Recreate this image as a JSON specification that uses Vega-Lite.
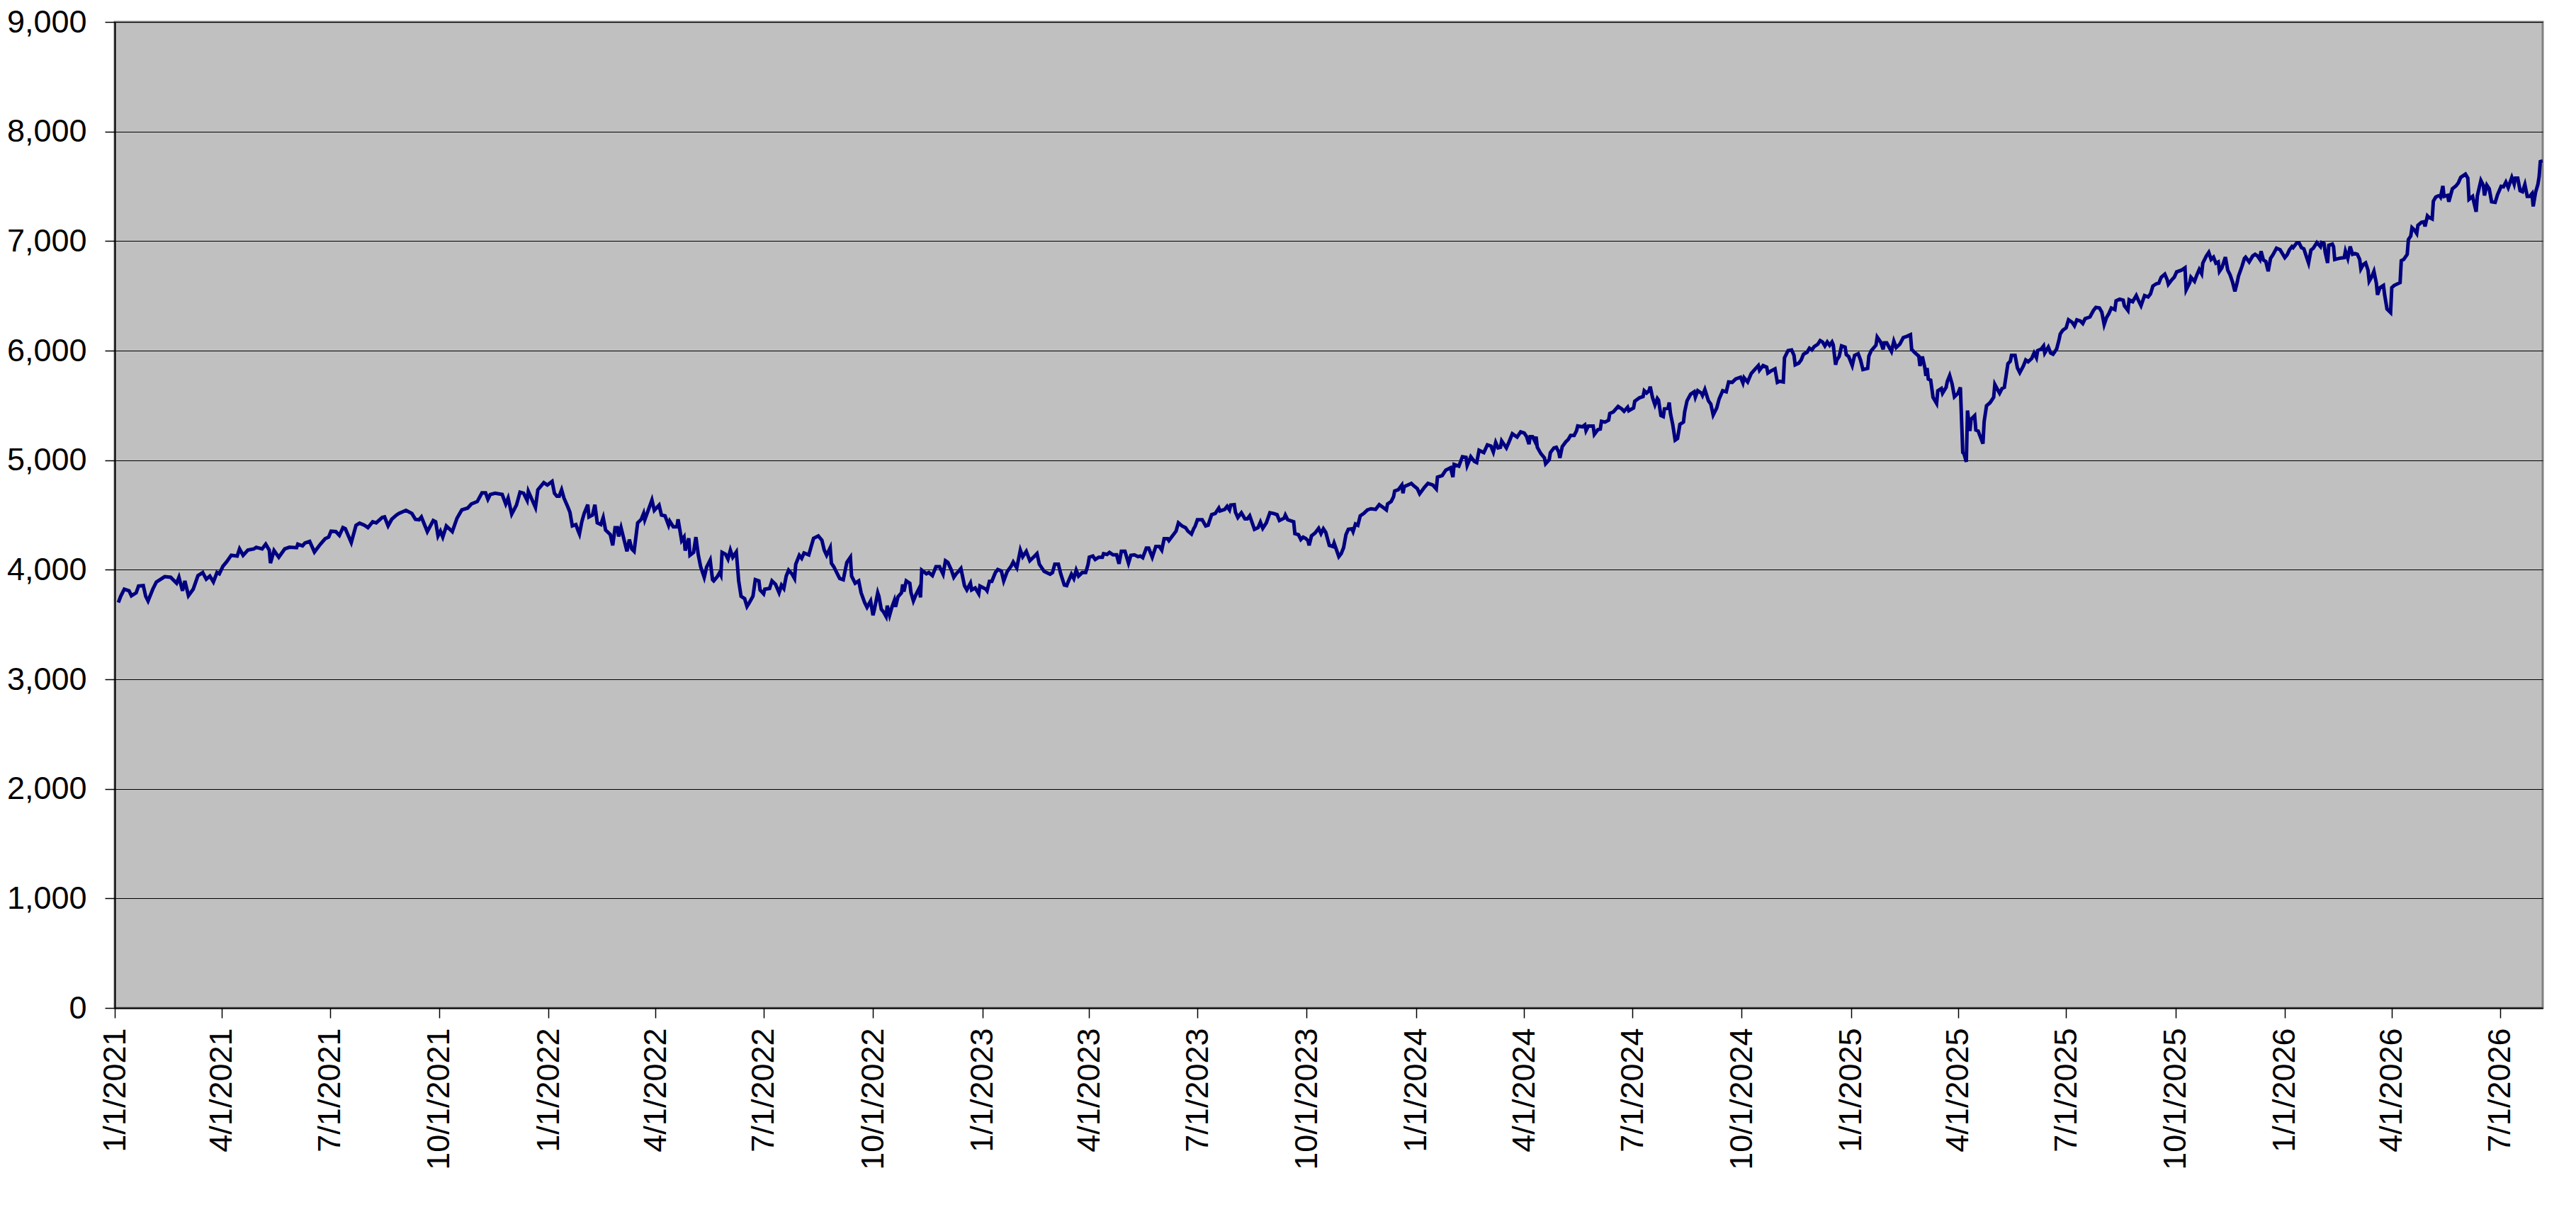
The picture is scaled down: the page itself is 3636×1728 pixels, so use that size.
{
  "$schema": "https://vega.github.io/schema/vega-lite/v6.json",
  "width": 3427,
  "height": 1392,
  "autosize": {"type": "none"},
  "padding": {"left": 162, "top": 31, "right": 47, "bottom": 305},
  "background": "white",
  "config": {
    "font": "Liberation Sans",
    "view": {"fill": "#C0C0C0", "stroke": "#808080", "strokeWidth": 3}
  },
  "data": {
    "values": [
      {"d": "2021-01-04", "v": 3700}, {"d": "2021-01-06", "v": 3758}, {"d": "2021-01-09", "v": 3823}, {"d": "2021-01-13", "v": 3808},
      {"d": "2021-01-15", "v": 3762}, {"d": "2021-01-19", "v": 3790}, {"d": "2021-01-21", "v": 3851}, {"d": "2021-01-25", "v": 3855},
      {"d": "2021-01-27", "v": 3758}, {"d": "2021-01-29", "v": 3715}, {"d": "2021-02-02", "v": 3823}, {"d": "2021-02-05", "v": 3888},
      {"d": "2021-02-09", "v": 3916}, {"d": "2021-02-12", "v": 3937}, {"d": "2021-02-17", "v": 3931}, {"d": "2021-02-22", "v": 3877},
      {"d": "2021-02-24", "v": 3931}, {"d": "2021-02-27", "v": 3808}, {"d": "2021-03-01", "v": 3898}, {"d": "2021-03-04", "v": 3764},
      {"d": "2021-03-08", "v": 3823}, {"d": "2021-03-12", "v": 3946}, {"d": "2021-03-16", "v": 3974}, {"d": "2021-03-19", "v": 3914},
      {"d": "2021-03-22", "v": 3942}, {"d": "2021-03-25", "v": 3888}, {"d": "2021-03-28", "v": 3974}, {"d": "2021-03-30", "v": 3963},
      {"d": "2021-04-02", "v": 4032}, {"d": "2021-04-05", "v": 4071}, {"d": "2021-04-09", "v": 4132}, {"d": "2021-04-14", "v": 4125},
      {"d": "2021-04-16", "v": 4190}, {"d": "2021-04-19", "v": 4132}, {"d": "2021-04-23", "v": 4179}, {"d": "2021-04-28", "v": 4190},
      {"d": "2021-04-30", "v": 4205}, {"d": "2021-05-05", "v": 4190}, {"d": "2021-05-08", "v": 4233}, {"d": "2021-05-11", "v": 4179},
      {"d": "2021-05-12", "v": 4060}, {"d": "2021-05-15", "v": 4175}, {"d": "2021-05-19", "v": 4114}, {"d": "2021-05-24", "v": 4190},
      {"d": "2021-05-28", "v": 4205}, {"d": "2021-06-03", "v": 4201}, {"d": "2021-06-04", "v": 4233}, {"d": "2021-06-08", "v": 4218},
      {"d": "2021-06-10", "v": 4244}, {"d": "2021-06-14", "v": 4259}, {"d": "2021-06-18", "v": 4162}, {"d": "2021-06-23", "v": 4233},
      {"d": "2021-06-27", "v": 4283}, {"d": "2021-06-30", "v": 4298}, {"d": "2021-07-02", "v": 4352}, {"d": "2021-07-06", "v": 4348},
      {"d": "2021-07-09", "v": 4313}, {"d": "2021-07-12", "v": 4384}, {"d": "2021-07-14", "v": 4374}, {"d": "2021-07-19", "v": 4248},
      {"d": "2021-07-23", "v": 4406}, {"d": "2021-07-26", "v": 4425}, {"d": "2021-07-30", "v": 4406}, {"d": "2021-08-02", "v": 4384},
      {"d": "2021-08-06", "v": 4438}, {"d": "2021-08-09", "v": 4428}, {"d": "2021-08-14", "v": 4477}, {"d": "2021-08-16", "v": 4482},
      {"d": "2021-08-19", "v": 4400}, {"d": "2021-08-22", "v": 4460}, {"d": "2021-08-26", "v": 4499}, {"d": "2021-08-28", "v": 4514},
      {"d": "2021-09-03", "v": 4542}, {"d": "2021-09-08", "v": 4514}, {"d": "2021-09-11", "v": 4460}, {"d": "2021-09-14", "v": 4456},
      {"d": "2021-09-16", "v": 4482}, {"d": "2021-09-21", "v": 4348}, {"d": "2021-09-26", "v": 4449}, {"d": "2021-09-28", "v": 4438},
      {"d": "2021-09-30", "v": 4309}, {"d": "2021-10-02", "v": 4352}, {"d": "2021-10-04", "v": 4298}, {"d": "2021-10-07", "v": 4400},
      {"d": "2021-10-12", "v": 4348}, {"d": "2021-10-16", "v": 4471}, {"d": "2021-10-20", "v": 4546}, {"d": "2021-10-25", "v": 4563},
      {"d": "2021-10-28", "v": 4600}, {"d": "2021-11-02", "v": 4622}, {"d": "2021-11-06", "v": 4702}, {"d": "2021-11-09", "v": 4702},
      {"d": "2021-11-11", "v": 4644}, {"d": "2021-11-13", "v": 4687}, {"d": "2021-11-17", "v": 4698}, {"d": "2021-11-23", "v": 4687},
      {"d": "2021-11-26", "v": 4600}, {"d": "2021-11-28", "v": 4654}, {"d": "2021-12-01", "v": 4508}, {"d": "2021-12-05", "v": 4590},
      {"d": "2021-12-08", "v": 4708}, {"d": "2021-12-11", "v": 4698}, {"d": "2021-12-14", "v": 4633}, {"d": "2021-12-15", "v": 4715},
      {"d": "2021-12-21", "v": 4568}, {"d": "2021-12-23", "v": 4730}, {"d": "2021-12-28", "v": 4795}, {"d": "2021-12-31", "v": 4773},
      {"d": "2022-01-04", "v": 4806}, {"d": "2022-01-06", "v": 4698}, {"d": "2022-01-08", "v": 4672}, {"d": "2022-01-10", "v": 4672},
      {"d": "2022-01-12", "v": 4730}, {"d": "2022-01-14", "v": 4654}, {"d": "2022-01-17", "v": 4579}, {"d": "2022-01-19", "v": 4525},
      {"d": "2022-01-21", "v": 4400}, {"d": "2022-01-24", "v": 4412}, {"d": "2022-01-26", "v": 4352}, {"d": "2022-01-27", "v": 4326},
      {"d": "2022-01-29", "v": 4438}, {"d": "2022-01-31", "v": 4514}, {"d": "2022-02-03", "v": 4594}, {"d": "2022-02-04", "v": 4482},
      {"d": "2022-02-07", "v": 4499}, {"d": "2022-02-09", "v": 4594}, {"d": "2022-02-11", "v": 4428}, {"d": "2022-02-14", "v": 4412},
      {"d": "2022-02-16", "v": 4477}, {"d": "2022-02-18", "v": 4363}, {"d": "2022-02-22", "v": 4320}, {"d": "2022-02-24", "v": 4222},
      {"d": "2022-02-26", "v": 4384}, {"d": "2022-02-28", "v": 4384}, {"d": "2022-03-01", "v": 4304}, {"d": "2022-03-03", "v": 4384},
      {"d": "2022-03-05", "v": 4298}, {"d": "2022-03-08", "v": 4168}, {"d": "2022-03-10", "v": 4276}, {"d": "2022-03-12", "v": 4190},
      {"d": "2022-03-14", "v": 4168}, {"d": "2022-03-17", "v": 4428}, {"d": "2022-03-20", "v": 4460}, {"d": "2022-03-22", "v": 4514},
      {"d": "2022-03-23", "v": 4456}, {"d": "2022-03-26", "v": 4546}, {"d": "2022-03-29", "v": 4637}, {"d": "2022-03-31", "v": 4542},
      {"d": "2022-04-04", "v": 4590}, {"d": "2022-04-06", "v": 4499}, {"d": "2022-04-09", "v": 4492}, {"d": "2022-04-12", "v": 4406},
      {"d": "2022-04-13", "v": 4443}, {"d": "2022-04-16", "v": 4391}, {"d": "2022-04-19", "v": 4391}, {"d": "2022-04-20", "v": 4460},
      {"d": "2022-04-23", "v": 4266}, {"d": "2022-04-25", "v": 4298}, {"d": "2022-04-26", "v": 4175}, {"d": "2022-04-29", "v": 4287},
      {"d": "2022-04-30", "v": 4132}, {"d": "2022-05-03", "v": 4158}, {"d": "2022-05-05", "v": 4298}, {"d": "2022-05-07", "v": 4136},
      {"d": "2022-05-09", "v": 4028}, {"d": "2022-05-12", "v": 3931}, {"d": "2022-05-14", "v": 4024}, {"d": "2022-05-17", "v": 4088},
      {"d": "2022-05-19", "v": 3909}, {"d": "2022-05-20", "v": 3898}, {"d": "2022-05-23", "v": 3937}, {"d": "2022-05-25", "v": 3974},
      {"d": "2022-05-26", "v": 3952}, {"d": "2022-05-27", "v": 4158}, {"d": "2022-05-30", "v": 4140}, {"d": "2022-06-01", "v": 4097},
      {"d": "2022-06-03", "v": 4179}, {"d": "2022-06-05", "v": 4114}, {"d": "2022-06-08", "v": 4162}, {"d": "2022-06-10", "v": 3898},
      {"d": "2022-06-12", "v": 3758}, {"d": "2022-06-15", "v": 3736}, {"d": "2022-06-17", "v": 3665}, {"d": "2022-06-19", "v": 3700},
      {"d": "2022-06-22", "v": 3758}, {"d": "2022-06-24", "v": 3909}, {"d": "2022-06-27", "v": 3898}, {"d": "2022-06-28", "v": 3816},
      {"d": "2022-07-01", "v": 3780}, {"d": "2022-07-02", "v": 3823}, {"d": "2022-07-06", "v": 3829}, {"d": "2022-07-08", "v": 3898},
      {"d": "2022-07-11", "v": 3866}, {"d": "2022-07-14", "v": 3790}, {"d": "2022-07-16", "v": 3859}, {"d": "2022-07-18", "v": 3829},
      {"d": "2022-07-20", "v": 3942}, {"d": "2022-07-22", "v": 3996}, {"d": "2022-07-25", "v": 3959}, {"d": "2022-07-27", "v": 3920},
      {"d": "2022-07-28", "v": 4050}, {"d": "2022-07-31", "v": 4132}, {"d": "2022-08-02", "v": 4104}, {"d": "2022-08-04", "v": 4153},
      {"d": "2022-08-08", "v": 4136}, {"d": "2022-08-10", "v": 4212}, {"d": "2022-08-12", "v": 4287}, {"d": "2022-08-16", "v": 4309},
      {"d": "2022-08-19", "v": 4270}, {"d": "2022-08-21", "v": 4179}, {"d": "2022-08-23", "v": 4132}, {"d": "2022-08-26", "v": 4201},
      {"d": "2022-08-27", "v": 4060}, {"d": "2022-08-29", "v": 4028}, {"d": "2022-09-01", "v": 3963}, {"d": "2022-09-03", "v": 3920},
      {"d": "2022-09-06", "v": 3909}, {"d": "2022-09-09", "v": 4067}, {"d": "2022-09-12", "v": 4114}, {"d": "2022-09-13", "v": 3942},
      {"d": "2022-09-16", "v": 3877}, {"d": "2022-09-19", "v": 3898}, {"d": "2022-09-21", "v": 3790}, {"d": "2022-09-24", "v": 3700},
      {"d": "2022-09-26", "v": 3657}, {"d": "2022-09-29", "v": 3715}, {"d": "2022-10-01", "v": 3585}, {"d": "2022-10-02", "v": 3628},
      {"d": "2022-10-05", "v": 3790}, {"d": "2022-10-06", "v": 3758}, {"d": "2022-10-08", "v": 3639}, {"d": "2022-10-10", "v": 3613},
      {"d": "2022-10-12", "v": 3574}, {"d": "2022-10-13", "v": 3672}, {"d": "2022-10-15", "v": 3585}, {"d": "2022-10-17", "v": 3661},
      {"d": "2022-10-19", "v": 3721}, {"d": "2022-10-20", "v": 3661}, {"d": "2022-10-22", "v": 3752}, {"d": "2022-10-25", "v": 3790},
      {"d": "2022-10-26", "v": 3866}, {"d": "2022-10-27", "v": 3801}, {"d": "2022-10-29", "v": 3898}, {"d": "2022-11-01", "v": 3877},
      {"d": "2022-11-02", "v": 3790}, {"d": "2022-11-04", "v": 3715}, {"d": "2022-11-06", "v": 3769}, {"d": "2022-11-09", "v": 3834},
      {"d": "2022-11-10", "v": 3747}, {"d": "2022-11-11", "v": 3996}, {"d": "2022-11-15", "v": 3963}, {"d": "2022-11-17", "v": 3974},
      {"d": "2022-11-20", "v": 3946}, {"d": "2022-11-23", "v": 4028}, {"d": "2022-11-26", "v": 4028}, {"d": "2022-11-29", "v": 3959},
      {"d": "2022-12-01", "v": 4082}, {"d": "2022-12-03", "v": 4067}, {"d": "2022-12-06", "v": 3996}, {"d": "2022-12-08", "v": 3931},
      {"d": "2022-12-10", "v": 3963}, {"d": "2022-12-12", "v": 3985}, {"d": "2022-12-14", "v": 4011}, {"d": "2022-12-17", "v": 3855},
      {"d": "2022-12-19", "v": 3816}, {"d": "2022-12-22", "v": 3877}, {"d": "2022-12-23", "v": 3816}, {"d": "2022-12-26", "v": 3834},
      {"d": "2022-12-29", "v": 3780}, {"d": "2022-12-30", "v": 3851}, {"d": "2023-01-02", "v": 3834}, {"d": "2023-01-04", "v": 3823},
      {"d": "2023-01-05", "v": 3808}, {"d": "2023-01-07", "v": 3894}, {"d": "2023-01-09", "v": 3894}, {"d": "2023-01-12", "v": 3974},
      {"d": "2023-01-14", "v": 4002}, {"d": "2023-01-17", "v": 3989}, {"d": "2023-01-19", "v": 3898}, {"d": "2023-01-22", "v": 3985},
      {"d": "2023-01-25", "v": 4028}, {"d": "2023-01-27", "v": 4071}, {"d": "2023-01-30", "v": 4017}, {"d": "2023-02-02", "v": 4179},
      {"d": "2023-02-04", "v": 4119}, {"d": "2023-02-07", "v": 4168}, {"d": "2023-02-10", "v": 4082}, {"d": "2023-02-13", "v": 4114},
      {"d": "2023-02-16", "v": 4147}, {"d": "2023-02-18", "v": 4050}, {"d": "2023-02-22", "v": 3985}, {"d": "2023-02-24", "v": 3974},
      {"d": "2023-02-27", "v": 3959}, {"d": "2023-03-01", "v": 3974}, {"d": "2023-03-03", "v": 4050}, {"d": "2023-03-06", "v": 4050},
      {"d": "2023-03-08", "v": 3963}, {"d": "2023-03-11", "v": 3860}, {"d": "2023-03-13", "v": 3855}, {"d": "2023-03-15", "v": 3909},
      {"d": "2023-03-17", "v": 3959}, {"d": "2023-03-19", "v": 3920}, {"d": "2023-03-21", "v": 3996}, {"d": "2023-03-23", "v": 3942},
      {"d": "2023-03-26", "v": 3974}, {"d": "2023-03-29", "v": 3974}, {"d": "2023-03-31", "v": 4050}, {"d": "2023-04-01", "v": 4114},
      {"d": "2023-04-04", "v": 4125}, {"d": "2023-04-06", "v": 4093}, {"d": "2023-04-09", "v": 4114}, {"d": "2023-04-12", "v": 4114},
      {"d": "2023-04-13", "v": 4147}, {"d": "2023-04-16", "v": 4140}, {"d": "2023-04-18", "v": 4158}, {"d": "2023-04-21", "v": 4136},
      {"d": "2023-04-24", "v": 4136}, {"d": "2023-04-26", "v": 4054}, {"d": "2023-04-28", "v": 4168}, {"d": "2023-05-01", "v": 4168},
      {"d": "2023-05-04", "v": 4060}, {"d": "2023-05-06", "v": 4132}, {"d": "2023-05-09", "v": 4136}, {"d": "2023-05-12", "v": 4119},
      {"d": "2023-05-14", "v": 4125}, {"d": "2023-05-16", "v": 4110}, {"d": "2023-05-19", "v": 4197}, {"d": "2023-05-21", "v": 4197},
      {"d": "2023-05-24", "v": 4114}, {"d": "2023-05-27", "v": 4212}, {"d": "2023-05-30", "v": 4212}, {"d": "2023-06-01", "v": 4179},
      {"d": "2023-06-03", "v": 4283}, {"d": "2023-06-06", "v": 4283}, {"d": "2023-06-07", "v": 4266}, {"d": "2023-06-10", "v": 4309},
      {"d": "2023-06-13", "v": 4352}, {"d": "2023-06-15", "v": 4428}, {"d": "2023-06-18", "v": 4400}, {"d": "2023-06-21", "v": 4384},
      {"d": "2023-06-23", "v": 4352}, {"d": "2023-06-26", "v": 4326}, {"d": "2023-06-28", "v": 4378}, {"d": "2023-06-29", "v": 4395},
      {"d": "2023-07-01", "v": 4456}, {"d": "2023-07-05", "v": 4456}, {"d": "2023-07-08", "v": 4400}, {"d": "2023-07-10", "v": 4406},
      {"d": "2023-07-13", "v": 4503}, {"d": "2023-07-16", "v": 4514}, {"d": "2023-07-19", "v": 4563}, {"d": "2023-07-20", "v": 4536},
      {"d": "2023-07-24", "v": 4551}, {"d": "2023-07-26", "v": 4579}, {"d": "2023-07-28", "v": 4546}, {"d": "2023-07-29", "v": 4590},
      {"d": "2023-08-01", "v": 4594}, {"d": "2023-08-02", "v": 4525}, {"d": "2023-08-04", "v": 4477}, {"d": "2023-08-07", "v": 4520},
      {"d": "2023-08-10", "v": 4464}, {"d": "2023-08-12", "v": 4464}, {"d": "2023-08-14", "v": 4492}, {"d": "2023-08-18", "v": 4369},
      {"d": "2023-08-21", "v": 4384}, {"d": "2023-08-23", "v": 4434}, {"d": "2023-08-25", "v": 4378}, {"d": "2023-08-28", "v": 4428},
      {"d": "2023-08-31", "v": 4520}, {"d": "2023-09-03", "v": 4514}, {"d": "2023-09-06", "v": 4503}, {"d": "2023-09-08", "v": 4449},
      {"d": "2023-09-12", "v": 4471}, {"d": "2023-09-13", "v": 4499}, {"d": "2023-09-15", "v": 4456}, {"d": "2023-09-17", "v": 4449},
      {"d": "2023-09-20", "v": 4438}, {"d": "2023-09-21", "v": 4330}, {"d": "2023-09-24", "v": 4320}, {"d": "2023-09-26", "v": 4276},
      {"d": "2023-09-28", "v": 4298}, {"d": "2023-09-30", "v": 4287}, {"d": "2023-10-02", "v": 4266}, {"d": "2023-10-03", "v": 4222},
      {"d": "2023-10-05", "v": 4309}, {"d": "2023-10-08", "v": 4335}, {"d": "2023-10-11", "v": 4378}, {"d": "2023-10-13", "v": 4330},
      {"d": "2023-10-15", "v": 4374}, {"d": "2023-10-17", "v": 4341}, {"d": "2023-10-20", "v": 4222}, {"d": "2023-10-23", "v": 4212},
      {"d": "2023-10-24", "v": 4244}, {"d": "2023-10-28", "v": 4119}, {"d": "2023-10-30", "v": 4147}, {"d": "2023-11-01", "v": 4201},
      {"d": "2023-11-03", "v": 4320}, {"d": "2023-11-05", "v": 4369}, {"d": "2023-11-08", "v": 4374}, {"d": "2023-11-09", "v": 4348},
      {"d": "2023-11-11", "v": 4417}, {"d": "2023-11-13", "v": 4406}, {"d": "2023-11-15", "v": 4492}, {"d": "2023-11-18", "v": 4514},
      {"d": "2023-11-21", "v": 4546}, {"d": "2023-11-24", "v": 4557}, {"d": "2023-11-28", "v": 4551}, {"d": "2023-12-01", "v": 4594},
      {"d": "2023-12-05", "v": 4563}, {"d": "2023-12-07", "v": 4546}, {"d": "2023-12-08", "v": 4600}, {"d": "2023-12-11", "v": 4622},
      {"d": "2023-12-13", "v": 4665}, {"d": "2023-12-14", "v": 4719}, {"d": "2023-12-17", "v": 4730}, {"d": "2023-12-20", "v": 4773},
      {"d": "2023-12-21", "v": 4698}, {"d": "2023-12-22", "v": 4758}, {"d": "2023-12-25", "v": 4773}, {"d": "2023-12-28", "v": 4788},
      {"d": "2023-12-30", "v": 4767}, {"d": "2024-01-02", "v": 4741}, {"d": "2024-01-04", "v": 4693}, {"d": "2024-01-08", "v": 4752},
      {"d": "2024-01-11", "v": 4789}, {"d": "2024-01-15", "v": 4774}, {"d": "2024-01-18", "v": 4737}, {"d": "2024-01-19", "v": 4845},
      {"d": "2024-01-23", "v": 4860}, {"d": "2024-01-26", "v": 4909}, {"d": "2024-01-30", "v": 4931}, {"d": "2024-02-01", "v": 4845},
      {"d": "2024-02-02", "v": 4961}, {"d": "2024-02-06", "v": 4946}, {"d": "2024-02-09", "v": 5032}, {"d": "2024-02-12", "v": 5026},
      {"d": "2024-02-13", "v": 4952}, {"d": "2024-02-16", "v": 5032}, {"d": "2024-02-19", "v": 4989}, {"d": "2024-02-21", "v": 4978},
      {"d": "2024-02-23", "v": 5090}, {"d": "2024-02-27", "v": 5069}, {"d": "2024-03-01", "v": 5140}, {"d": "2024-03-04", "v": 5129},
      {"d": "2024-03-06", "v": 5075}, {"d": "2024-03-08", "v": 5161}, {"d": "2024-03-10", "v": 5112}, {"d": "2024-03-12", "v": 5118},
      {"d": "2024-03-13", "v": 5176}, {"d": "2024-03-17", "v": 5112}, {"d": "2024-03-19", "v": 5161}, {"d": "2024-03-22", "v": 5241},
      {"d": "2024-03-26", "v": 5211}, {"d": "2024-03-29", "v": 5258}, {"d": "2024-04-01", "v": 5247}, {"d": "2024-04-03", "v": 5215},
      {"d": "2024-04-05", "v": 5146}, {"d": "2024-04-06", "v": 5215}, {"d": "2024-04-08", "v": 5215}, {"d": "2024-04-10", "v": 5172},
      {"d": "2024-04-11", "v": 5215}, {"d": "2024-04-12", "v": 5118}, {"d": "2024-04-15", "v": 5060}, {"d": "2024-04-18", "v": 5021},
      {"d": "2024-04-19", "v": 4968}, {"d": "2024-04-22", "v": 5004}, {"d": "2024-04-23", "v": 5069}, {"d": "2024-04-26", "v": 5112},
      {"d": "2024-04-28", "v": 5118}, {"d": "2024-04-30", "v": 5075}, {"d": "2024-05-01", "v": 5021}, {"d": "2024-05-03", "v": 5124},
      {"d": "2024-05-06", "v": 5168}, {"d": "2024-05-08", "v": 5189}, {"d": "2024-05-10", "v": 5226}, {"d": "2024-05-13", "v": 5226},
      {"d": "2024-05-15", "v": 5269}, {"d": "2024-05-16", "v": 5312}, {"d": "2024-05-20", "v": 5305}, {"d": "2024-05-22", "v": 5322},
      {"d": "2024-05-23", "v": 5269}, {"d": "2024-05-25", "v": 5312}, {"d": "2024-05-29", "v": 5312}, {"d": "2024-05-30", "v": 5236},
      {"d": "2024-06-02", "v": 5279}, {"d": "2024-06-04", "v": 5284}, {"d": "2024-06-05", "v": 5355}, {"d": "2024-06-08", "v": 5348},
      {"d": "2024-06-11", "v": 5365}, {"d": "2024-06-12", "v": 5426}, {"d": "2024-06-15", "v": 5441}, {"d": "2024-06-19", "v": 5490},
      {"d": "2024-06-22", "v": 5469}, {"d": "2024-06-24", "v": 5447}, {"d": "2024-06-27", "v": 5484}, {"d": "2024-06-28", "v": 5452},
      {"d": "2024-07-02", "v": 5477}, {"d": "2024-07-03", "v": 5538}, {"d": "2024-07-07", "v": 5570}, {"d": "2024-07-10", "v": 5581},
      {"d": "2024-07-11", "v": 5634}, {"d": "2024-07-13", "v": 5613}, {"d": "2024-07-15", "v": 5634}, {"d": "2024-07-16", "v": 5671},
      {"d": "2024-07-18", "v": 5570}, {"d": "2024-07-20", "v": 5505}, {"d": "2024-07-22", "v": 5563}, {"d": "2024-07-23", "v": 5548},
      {"d": "2024-07-25", "v": 5408}, {"d": "2024-07-27", "v": 5398}, {"d": "2024-07-28", "v": 5469}, {"d": "2024-07-31", "v": 5473},
      {"d": "2024-08-01", "v": 5527}, {"d": "2024-08-02", "v": 5430}, {"d": "2024-08-04", "v": 5322}, {"d": "2024-08-06", "v": 5183},
      {"d": "2024-08-08", "v": 5198}, {"d": "2024-08-10", "v": 5327}, {"d": "2024-08-13", "v": 5348}, {"d": "2024-08-14", "v": 5441},
      {"d": "2024-08-16", "v": 5542}, {"d": "2024-08-19", "v": 5602}, {"d": "2024-08-22", "v": 5624}, {"d": "2024-08-23", "v": 5576},
      {"d": "2024-08-25", "v": 5634}, {"d": "2024-08-28", "v": 5613}, {"d": "2024-08-29", "v": 5591}, {"d": "2024-08-31", "v": 5645},
      {"d": "2024-09-03", "v": 5542}, {"d": "2024-09-05", "v": 5512}, {"d": "2024-09-07", "v": 5413}, {"d": "2024-09-10", "v": 5477},
      {"d": "2024-09-12", "v": 5559}, {"d": "2024-09-15", "v": 5634}, {"d": "2024-09-18", "v": 5624}, {"d": "2024-09-20", "v": 5714},
      {"d": "2024-09-23", "v": 5710}, {"d": "2024-09-26", "v": 5742}, {"d": "2024-09-30", "v": 5757}, {"d": "2024-10-02", "v": 5705},
      {"d": "2024-10-03", "v": 5753}, {"d": "2024-10-06", "v": 5714}, {"d": "2024-10-09", "v": 5791}, {"d": "2024-10-12", "v": 5828},
      {"d": "2024-10-15", "v": 5864}, {"d": "2024-10-16", "v": 5821}, {"d": "2024-10-19", "v": 5864}, {"d": "2024-10-22", "v": 5849},
      {"d": "2024-10-23", "v": 5796}, {"d": "2024-10-26", "v": 5817}, {"d": "2024-10-29", "v": 5834}, {"d": "2024-10-31", "v": 5710},
      {"d": "2024-11-02", "v": 5720}, {"d": "2024-11-05", "v": 5714}, {"d": "2024-11-06", "v": 5935}, {"d": "2024-11-09", "v": 6000},
      {"d": "2024-11-12", "v": 6006}, {"d": "2024-11-14", "v": 5957}, {"d": "2024-11-15", "v": 5871}, {"d": "2024-11-18", "v": 5886},
      {"d": "2024-11-20", "v": 5914}, {"d": "2024-11-22", "v": 5968}, {"d": "2024-11-25", "v": 5985}, {"d": "2024-11-27", "v": 6022},
      {"d": "2024-11-29", "v": 6006}, {"d": "2024-12-01", "v": 6037}, {"d": "2024-12-04", "v": 6058}, {"d": "2024-12-06", "v": 6092},
      {"d": "2024-12-08", "v": 6079}, {"d": "2024-12-10", "v": 6043}, {"d": "2024-12-12", "v": 6079}, {"d": "2024-12-14", "v": 6049},
      {"d": "2024-12-16", "v": 6079}, {"d": "2024-12-17", "v": 6054}, {"d": "2024-12-19", "v": 5871}, {"d": "2024-12-20", "v": 5914},
      {"d": "2024-12-22", "v": 5946}, {"d": "2024-12-24", "v": 6043}, {"d": "2024-12-27", "v": 6032}, {"d": "2024-12-28", "v": 5963},
      {"d": "2024-12-30", "v": 5946}, {"d": "2025-01-02", "v": 5864}, {"d": "2025-01-04", "v": 5957}, {"d": "2025-01-07", "v": 5972},
      {"d": "2025-01-09", "v": 5914}, {"d": "2025-01-11", "v": 5827}, {"d": "2025-01-15", "v": 5838}, {"d": "2025-01-16", "v": 5950},
      {"d": "2025-01-18", "v": 6000}, {"d": "2025-01-22", "v": 6050}, {"d": "2025-01-23", "v": 6123}, {"d": "2025-01-26", "v": 6076},
      {"d": "2025-01-28", "v": 6011}, {"d": "2025-01-29", "v": 6071}, {"d": "2025-01-31", "v": 6071}, {"d": "2025-02-04", "v": 5993},
      {"d": "2025-02-06", "v": 6086}, {"d": "2025-02-08", "v": 6028}, {"d": "2025-02-11", "v": 6058}, {"d": "2025-02-14", "v": 6119},
      {"d": "2025-02-17", "v": 6130}, {"d": "2025-02-20", "v": 6145}, {"d": "2025-02-21", "v": 6011}, {"d": "2025-02-24", "v": 5978},
      {"d": "2025-02-27", "v": 5950}, {"d": "2025-02-28", "v": 5860}, {"d": "2025-03-02", "v": 5946}, {"d": "2025-03-04", "v": 5849},
      {"d": "2025-03-05", "v": 5769}, {"d": "2025-03-06", "v": 5842}, {"d": "2025-03-07", "v": 5741}, {"d": "2025-03-09", "v": 5730},
      {"d": "2025-03-11", "v": 5574}, {"d": "2025-03-14", "v": 5518}, {"d": "2025-03-15", "v": 5633}, {"d": "2025-03-18", "v": 5654},
      {"d": "2025-03-19", "v": 5611}, {"d": "2025-03-22", "v": 5665}, {"d": "2025-03-23", "v": 5719}, {"d": "2025-03-25", "v": 5773},
      {"d": "2025-03-27", "v": 5698}, {"d": "2025-03-29", "v": 5579}, {"d": "2025-04-01", "v": 5611}, {"d": "2025-04-03", "v": 5665},
      {"d": "2025-04-05", "v": 5071}, {"d": "2025-04-06", "v": 5060}, {"d": "2025-04-08", "v": 4985}, {"d": "2025-04-09", "v": 5453},
      {"d": "2025-04-11", "v": 5266}, {"d": "2025-04-12", "v": 5374}, {"d": "2025-04-15", "v": 5406}, {"d": "2025-04-16", "v": 5276},
      {"d": "2025-04-18", "v": 5266}, {"d": "2025-04-22", "v": 5151}, {"d": "2025-04-23", "v": 5352}, {"d": "2025-04-25", "v": 5497},
      {"d": "2025-04-28", "v": 5525}, {"d": "2025-05-01", "v": 5574}, {"d": "2025-05-02", "v": 5691}, {"d": "2025-05-06", "v": 5611},
      {"d": "2025-05-08", "v": 5654}, {"d": "2025-05-10", "v": 5665}, {"d": "2025-05-13", "v": 5881}, {"d": "2025-05-15", "v": 5903},
      {"d": "2025-05-16", "v": 5957}, {"d": "2025-05-19", "v": 5957}, {"d": "2025-05-21", "v": 5842}, {"d": "2025-05-23", "v": 5799},
      {"d": "2025-05-26", "v": 5860}, {"d": "2025-05-28", "v": 5914}, {"d": "2025-05-30", "v": 5898}, {"d": "2025-06-02", "v": 5929},
      {"d": "2025-06-04", "v": 5978}, {"d": "2025-06-06", "v": 5935}, {"d": "2025-06-07", "v": 6000}, {"d": "2025-06-10", "v": 6015},
      {"d": "2025-06-12", "v": 6043}, {"d": "2025-06-13", "v": 5978}, {"d": "2025-06-16", "v": 6032}, {"d": "2025-06-18", "v": 5978},
      {"d": "2025-06-20", "v": 5967}, {"d": "2025-06-23", "v": 6015}, {"d": "2025-06-25", "v": 6097}, {"d": "2025-06-26", "v": 6151},
      {"d": "2025-06-28", "v": 6184}, {"d": "2025-07-01", "v": 6209}, {"d": "2025-07-03", "v": 6281}, {"d": "2025-07-06", "v": 6259},
      {"d": "2025-07-08", "v": 6227}, {"d": "2025-07-10", "v": 6281}, {"d": "2025-07-13", "v": 6270}, {"d": "2025-07-15", "v": 6248},
      {"d": "2025-07-17", "v": 6292}, {"d": "2025-07-21", "v": 6307}, {"d": "2025-07-24", "v": 6367}, {"d": "2025-07-26", "v": 6395},
      {"d": "2025-07-29", "v": 6389}, {"d": "2025-07-31", "v": 6352}, {"d": "2025-08-02", "v": 6238}, {"d": "2025-08-04", "v": 6302},
      {"d": "2025-08-06", "v": 6339}, {"d": "2025-08-08", "v": 6389}, {"d": "2025-08-11", "v": 6374}, {"d": "2025-08-12", "v": 6454},
      {"d": "2025-08-15", "v": 6469}, {"d": "2025-08-18", "v": 6460}, {"d": "2025-08-19", "v": 6410}, {"d": "2025-08-22", "v": 6367},
      {"d": "2025-08-23", "v": 6464}, {"d": "2025-08-26", "v": 6447}, {"d": "2025-08-29", "v": 6503}, {"d": "2025-08-31", "v": 6454},
      {"d": "2025-09-02", "v": 6410}, {"d": "2025-09-05", "v": 6503}, {"d": "2025-09-08", "v": 6490}, {"d": "2025-09-10", "v": 6518},
      {"d": "2025-09-12", "v": 6590}, {"d": "2025-09-15", "v": 6611}, {"d": "2025-09-17", "v": 6616}, {"d": "2025-09-19", "v": 6670},
      {"d": "2025-09-22", "v": 6698}, {"d": "2025-09-24", "v": 6648}, {"d": "2025-09-25", "v": 6605}, {"d": "2025-09-28", "v": 6648},
      {"d": "2025-09-30", "v": 6670}, {"d": "2025-10-02", "v": 6719}, {"d": "2025-10-06", "v": 6734}, {"d": "2025-10-09", "v": 6756},
      {"d": "2025-10-10", "v": 6555}, {"d": "2025-10-13", "v": 6620}, {"d": "2025-10-14", "v": 6670}, {"d": "2025-10-17", "v": 6633},
      {"d": "2025-10-19", "v": 6691}, {"d": "2025-10-21", "v": 6741}, {"d": "2025-10-23", "v": 6702}, {"d": "2025-10-24", "v": 6799},
      {"d": "2025-10-27", "v": 6864}, {"d": "2025-10-29", "v": 6896}, {"d": "2025-10-31", "v": 6832}, {"d": "2025-11-02", "v": 6853},
      {"d": "2025-11-04", "v": 6799}, {"d": "2025-11-06", "v": 6810}, {"d": "2025-11-07", "v": 6724}, {"d": "2025-11-09", "v": 6756},
      {"d": "2025-11-12", "v": 6853}, {"d": "2025-11-14", "v": 6734}, {"d": "2025-11-16", "v": 6691}, {"d": "2025-11-18", "v": 6626},
      {"d": "2025-11-20", "v": 6540}, {"d": "2025-11-22", "v": 6626}, {"d": "2025-11-23", "v": 6680}, {"d": "2025-11-26", "v": 6771},
      {"d": "2025-11-28", "v": 6842}, {"d": "2025-11-29", "v": 6853}, {"d": "2025-12-02", "v": 6810}, {"d": "2025-12-05", "v": 6864},
      {"d": "2025-12-07", "v": 6879}, {"d": "2025-12-09", "v": 6864}, {"d": "2025-12-11", "v": 6832}, {"d": "2025-12-12", "v": 6907},
      {"d": "2025-12-14", "v": 6827}, {"d": "2025-12-16", "v": 6814}, {"d": "2025-12-18", "v": 6724}, {"d": "2025-12-20", "v": 6842},
      {"d": "2025-12-22", "v": 6875}, {"d": "2025-12-25", "v": 6935}, {"d": "2025-12-28", "v": 6922}, {"d": "2026-01-01", "v": 6849},
      {"d": "2026-01-03", "v": 6875}, {"d": "2026-01-05", "v": 6922}, {"d": "2026-01-07", "v": 6950}, {"d": "2026-01-08", "v": 6940},
      {"d": "2026-01-11", "v": 6983}, {"d": "2026-01-13", "v": 6983}, {"d": "2026-01-15", "v": 6940}, {"d": "2026-01-17", "v": 6929},
      {"d": "2026-01-19", "v": 6864}, {"d": "2026-01-21", "v": 6800}, {"d": "2026-01-23", "v": 6918}, {"d": "2026-01-25", "v": 6935},
      {"d": "2026-01-28", "v": 6987}, {"d": "2026-01-31", "v": 6950}, {"d": "2026-02-01", "v": 6987}, {"d": "2026-02-03", "v": 6978},
      {"d": "2026-02-04", "v": 6897}, {"d": "2026-02-06", "v": 6800}, {"d": "2026-02-07", "v": 6961}, {"d": "2026-02-10", "v": 6972},
      {"d": "2026-02-11", "v": 6950}, {"d": "2026-02-12", "v": 6832}, {"d": "2026-02-16", "v": 6843}, {"d": "2026-02-20", "v": 6849},
      {"d": "2026-02-21", "v": 6907}, {"d": "2026-02-23", "v": 6843}, {"d": "2026-02-25", "v": 6950}, {"d": "2026-02-27", "v": 6879},
      {"d": "2026-03-01", "v": 6886}, {"d": "2026-03-03", "v": 6879}, {"d": "2026-03-05", "v": 6832}, {"d": "2026-03-06", "v": 6746},
      {"d": "2026-03-08", "v": 6785}, {"d": "2026-03-10", "v": 6800}, {"d": "2026-03-12", "v": 6735}, {"d": "2026-03-13", "v": 6634},
      {"d": "2026-03-15", "v": 6671}, {"d": "2026-03-17", "v": 6724}, {"d": "2026-03-19", "v": 6617}, {"d": "2026-03-20", "v": 6509},
      {"d": "2026-03-22", "v": 6574}, {"d": "2026-03-25", "v": 6595}, {"d": "2026-03-26", "v": 6509}, {"d": "2026-03-28", "v": 6380},
      {"d": "2026-03-31", "v": 6348}, {"d": "2026-04-01", "v": 6574}, {"d": "2026-04-03", "v": 6595}, {"d": "2026-04-08", "v": 6621},
      {"d": "2026-04-09", "v": 6821}, {"d": "2026-04-11", "v": 6832}, {"d": "2026-04-14", "v": 6879}, {"d": "2026-04-15", "v": 7015},
      {"d": "2026-04-17", "v": 7047}, {"d": "2026-04-18", "v": 7122}, {"d": "2026-04-20", "v": 7101}, {"d": "2026-04-22", "v": 7069},
      {"d": "2026-04-23", "v": 7144}, {"d": "2026-04-26", "v": 7172}, {"d": "2026-04-28", "v": 7176}, {"d": "2026-04-29", "v": 7133},
      {"d": "2026-05-01", "v": 7230}, {"d": "2026-05-02", "v": 7219}, {"d": "2026-05-05", "v": 7202}, {"d": "2026-05-06", "v": 7365},
      {"d": "2026-05-08", "v": 7402}, {"d": "2026-05-11", "v": 7417}, {"d": "2026-05-12", "v": 7402}, {"d": "2026-05-14", "v": 7503},
      {"d": "2026-05-15", "v": 7408}, {"d": "2026-05-18", "v": 7417}, {"d": "2026-05-19", "v": 7359}, {"d": "2026-05-22", "v": 7477},
      {"d": "2026-05-25", "v": 7503}, {"d": "2026-05-27", "v": 7531}, {"d": "2026-05-29", "v": 7581}, {"d": "2026-05-31", "v": 7596},
      {"d": "2026-06-02", "v": 7611}, {"d": "2026-06-04", "v": 7574}, {"d": "2026-06-05", "v": 7381}, {"d": "2026-06-08", "v": 7408},
      {"d": "2026-06-09", "v": 7359}, {"d": "2026-06-11", "v": 7267}, {"d": "2026-06-12", "v": 7413}, {"d": "2026-06-15", "v": 7553},
      {"d": "2026-06-17", "v": 7510}, {"d": "2026-06-18", "v": 7417}, {"d": "2026-06-20", "v": 7510}, {"d": "2026-06-22", "v": 7477},
      {"d": "2026-06-24", "v": 7359}, {"d": "2026-06-27", "v": 7353}, {"d": "2026-06-29", "v": 7424}, {"d": "2026-07-02", "v": 7499},
      {"d": "2026-07-04", "v": 7495}, {"d": "2026-07-06", "v": 7538}, {"d": "2026-07-08", "v": 7488}, {"d": "2026-07-11", "v": 7581},
      {"d": "2026-07-13", "v": 7520}, {"d": "2026-07-14", "v": 7574}, {"d": "2026-07-16", "v": 7574}, {"d": "2026-07-18", "v": 7460},
      {"d": "2026-07-20", "v": 7451}, {"d": "2026-07-22", "v": 7516}, {"d": "2026-07-24", "v": 7408}, {"d": "2026-07-26", "v": 7408},
      {"d": "2026-07-28", "v": 7434}, {"d": "2026-07-29", "v": 7316}, {"d": "2026-07-31", "v": 7445}, {"d": "2026-08-02", "v": 7520},
      {"d": "2026-08-03", "v": 7589}, {"d": "2026-08-04", "v": 7725}, {"d": "2026-08-06", "v": 7731}
    ]
  },
  "mark": {"type": "line", "color": "#000080", "strokeWidth": 5, "clip": true},
  "encoding": {
    "x": {
      "field": "d",
      "type": "temporal",
      "scale": {
        "type": "utc",
        "domain": [
          {"year": 2021, "month": 1, "date": 1, "utc": true},
          {"year": 2026, "month": 8, "date": 6, "utc": true}
        ]
      },
      "axis": {
        "title": null,
        "values": [
          {"year": 2021, "month": 1, "date": 1, "utc": true}, {"year": 2021, "month": 4, "date": 1, "utc": true},
          {"year": 2021, "month": 7, "date": 1, "utc": true}, {"year": 2021, "month": 10, "date": 1, "utc": true},
          {"year": 2022, "month": 1, "date": 1, "utc": true}, {"year": 2022, "month": 4, "date": 1, "utc": true},
          {"year": 2022, "month": 7, "date": 1, "utc": true}, {"year": 2022, "month": 10, "date": 1, "utc": true},
          {"year": 2023, "month": 1, "date": 1, "utc": true}, {"year": 2023, "month": 4, "date": 1, "utc": true},
          {"year": 2023, "month": 7, "date": 1, "utc": true}, {"year": 2023, "month": 10, "date": 1, "utc": true},
          {"year": 2024, "month": 1, "date": 1, "utc": true}, {"year": 2024, "month": 4, "date": 1, "utc": true},
          {"year": 2024, "month": 7, "date": 1, "utc": true}, {"year": 2024, "month": 10, "date": 1, "utc": true},
          {"year": 2025, "month": 1, "date": 1, "utc": true}, {"year": 2025, "month": 4, "date": 1, "utc": true},
          {"year": 2025, "month": 7, "date": 1, "utc": true}, {"year": 2025, "month": 10, "date": 1, "utc": true},
          {"year": 2026, "month": 1, "date": 1, "utc": true}, {"year": 2026, "month": 4, "date": 1, "utc": true},
          {"year": 2026, "month": 7, "date": 1, "utc": true}
        ],
        "format": "%-m/%-d/%Y",
        "labelAngle": 270,
        "labelAlign": "right",
        "labelBaseline": "middle",
        "labelFont": "Liberation Sans",
        "labelFontSize": 45,
        "labelColor": "#000000",
        "labelPadding": 14,
        "labelLimit": 0,
        "labelOverlap": false,
        "labelFlush": false,
        "tickSize": 14,
        "tickColor": "#000000",
        "tickWidth": 1.5,
        "domainColor": "#000000",
        "domainWidth": 2,
        "grid": false
      }
    },
    "y": {
      "field": "v",
      "type": "quantitative",
      "scale": {"domain": [0, 9000], "nice": false, "zero": true},
      "axis": {
        "title": null,
        "values": [0, 1000, 2000, 3000, 4000, 5000, 6000, 7000, 8000, 9000],
        "format": ",.0f",
        "labelFont": "Liberation Sans",
        "labelFontSize": 45,
        "labelColor": "#000000",
        "labelPadding": 26,
        "labelLimit": 0,
        "tickSize": 14,
        "tickColor": "#000000",
        "tickWidth": 1.5,
        "domainColor": "#000000",
        "domainWidth": 2,
        "grid": true,
        "gridColor": "#000000",
        "gridWidth": 1.2
      }
    }
  }
}
